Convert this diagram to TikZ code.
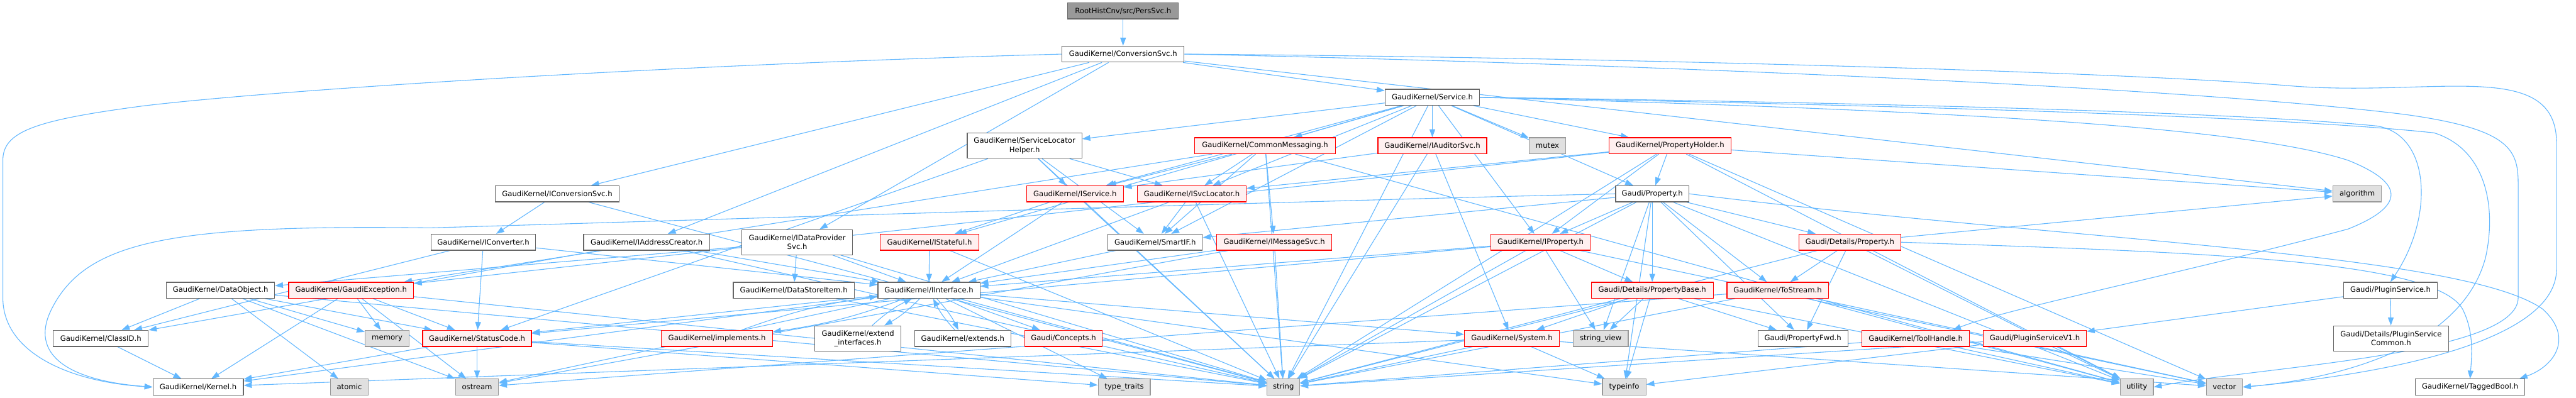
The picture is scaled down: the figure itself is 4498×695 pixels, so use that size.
\documentclass[tikz,border=0pt]{standalone}
\usepackage{fontspec}
\setmainfont{DejaVu Sans}
\usetikzlibrary{arrows.meta}
\pgfdeclarelayer{bg}
\pgfsetlayers{bg,main}
\definecolor{edgec}{RGB}{99,184,255}
\definecolor{redfill}{RGB}{255,240,240}
\definecolor{grayfill}{RGB}{224,224,224}
\definecolor{rootfill}{RGB}{153,153,153}
\definecolor{bord}{RGB}{102,102,102}
\definecolor{grayb}{RGB}{153,153,153}
\begin{document}
\begin{tikzpicture}[x=1pt,y=-1pt,
  every node/.style={font=\fontsize{12.8}{15.5}\selectfont, inner sep=0pt, align=center},
  box/.style={draw=bord, fill=white, line width=1.3pt, minimum height=28pt},
  rbox/.style={draw=red, fill=redfill, line width=1.3pt, minimum height=28pt},
  gbox/.style={draw=grayb, fill=grayfill, line width=1.3pt, minimum height=28pt},
  rootbox/.style={draw=bord, fill=rootfill, line width=1.3pt, minimum height=28pt},
  tall/.style={minimum height=44pt},
  e/.style={draw=edgec, line width=1.2pt, -{Triangle[length=14pt,width=10pt]}},
]
\useasboundingbox (0,0) rectangle (4498,695);
% row 1-3
\node[rootbox, minimum width=193pt] (root) at (1961,19) {RootHistCnv/src/PersSvc.h};
\node[box, minimum width=213pt] (cs) at (1961,94.5) {GaudiKernel/ConversionSvc.h};
\node[box, minimum width=165pt] (svc) at (2501,170) {GaudiKernel/Service.h};
% row 4
\node[box, tall, minimum width=200pt] (slh) at (1789,254.5) {GaudiKernel/ServiceLocator\\Helper.h};
\node[rbox, minimum width=246pt] (cm) at (2209,254.5) {GaudiKernel/CommonMessaging.h};
\node[rbox, minimum width=190pt] (iaudit) at (2501,254.5) {GaudiKernel/IAuditorSvc.h};
\node[gbox, minimum width=64pt] (mutex) at (2702,254.5) {mutex};
\node[rbox, minimum width=213pt] (propholder) at (2916,254.5) {GaudiKernel/PropertyHolder.h};
% row 5
\node[box, minimum width=216pt] (iconvsvc) at (973,338.5) {GaudiKernel/IConversionSvc.h};
\node[rbox, minimum width=169pt] (iservice) at (1877,338.5) {GaudiKernel/IService.h};
\node[rbox, minimum width=190pt] (isvcloc) at (2081,338.5) {GaudiKernel/ISvcLocator.h};
\node[box, minimum width=128pt] (prop) at (2885,338.5) {Gaudi/Property.h};
\node[gbox, minimum width=85pt] (algorithm) at (4116,338.5) {algorithm};
% row 6
\node[box, minimum width=183pt] (iconverter) at (844,423) {GaudiKernel/IConverter.h};
\node[box, minimum width=220pt] (iaddr) at (1129,423) {GaudiKernel/IAddressCreator.h};
\node[box, tall, minimum width=193pt] (idataprov) at (1392,423) {GaudiKernel/IDataProvider\\Svc.h};
\node[rbox, minimum width=172pt] (istateful) at (1623,423) {GaudiKernel/IStateful.h};
\node[box, minimum width=165pt] (smartif) at (2017,423) {GaudiKernel/SmartIF.h};
\node[rbox, minimum width=201pt] (imsgsvc) at (2225,423) {GaudiKernel/IMessageSvc.h};
\node[rbox, minimum width=174pt] (iproperty) at (2690,423) {GaudiKernel/IProperty.h};
\node[rbox, minimum width=178pt] (detprop) at (3230,423) {Gaudi/Details/Property.h};
% row 7
\node[box, minimum width=189pt] (dataobject) at (385,507) {GaudiKernel/DataObject.h};
\node[rbox, minimum width=218pt] (gaudiexc) at (613,507) {GaudiKernel/GaudiException.h};
\node[box, minimum width=211pt] (datastore) at (1386,507) {GaudiKernel/DataStoreItem.h};
\node[box, minimum width=178pt] (iinterface) at (1622,507) {GaudiKernel/IInterface.h};
\node[rbox, minimum width=213pt] (propbase) at (2885,507) {Gaudi/Details/PropertyBase.h};
\node[rbox, minimum width=177pt] (tostream) at (3104,507) {GaudiKernel/ToStream.h};
\node[box, minimum width=164pt] (pluginsvc) at (4174,507) {Gaudi/PluginService.h};
% row 8
\node[box, minimum width=166pt] (classid) at (176,591) {GaudiKernel/ClassID.h};
\node[gbox, minimum width=77pt] (memory) at (676,591) {memory};
\node[rbox, minimum width=190pt] (statuscode) at (833,591) {GaudiKernel/StatusCode.h};
\node[rbox, minimum width=194pt] (implements) at (1252,591) {GaudiKernel/implements.h};
\node[box, tall, minimum width=150pt] (extendif) at (1498,591) {GaudiKernel/extend\\\_interfaces.h};
\node[box, minimum width=168pt] (extends) at (1681,591) {GaudiKernel/extends.h};
\node[rbox, minimum width=135pt] (concepts) at (1857,591) {Gaudi/Concepts.h};
\node[rbox, minimum width=166pt] (system) at (2640,591) {GaudiKernel/System.h};
\node[gbox, minimum width=96pt] (stringview) at (2795,591) {string\_view};
\node[box, minimum width=157pt] (propfwd) at (3148,591) {Gaudi/PropertyFwd.h};
\node[rbox, minimum width=188pt] (toolhandle) at (3345,591) {GaudiKernel/ToolHandle.h};
\node[rbox, minimum width=180pt] (pluginv1) at (3553,591) {Gaudi/PluginServiceV1.h};
\node[box, tall, minimum width=201pt] (plugincommon) at (4175,591) {Gaudi/Details/PluginService\\Common.h};
% row 9
\node[box, minimum width=158pt] (kernel) at (346,676) {GaudiKernel/Kernel.h};
\node[gbox, minimum width=66pt] (atomic) at (610,676) {atomic};
\node[gbox, minimum width=75pt] (ostream) at (833,676) {ostream};
\node[gbox, minimum width=91pt] (typetraits) at (1963,676) {type\_traits};
\node[gbox, minimum width=57pt] (string) at (2241,676) {string};
\node[gbox, minimum width=76pt] (typeinfo) at (2836,676) {typeinfo};
\node[gbox, minimum width=58pt] (utility) at (3731,676) {utility};
\node[gbox, minimum width=63pt] (vector) at (3884,676) {vector};
\node[box, minimum width=191pt] (taggedbool) at (4313,676) {GaudiKernel/TaggedBool.h};

\begin{pgfonlayer}{bg}
\fill[white] (0,0) rectangle (4498,695);
\draw[e] (root) -- (cs);
% ConversionSvc
\foreach \t in {svc,iconvsvc,iaddr,idataprov,algorithm} \draw[e] (cs) -- (\t);
\draw[e] (cs.west) .. controls (1200,112) and (500,155) .. (250,185) .. controls (60,210) and (5,230) .. (5,280) -- (5,520) .. controls (5,620) and (130,668) .. (kernel.west);
\draw[e] (cs.east) .. controls (2800,100) and (3700,125) .. (4000,150) .. controls (4250,170) and (4464,100) .. (4464,250) -- (4464,470) .. controls (4464,600) and (4150,655) .. (vector.east);
\draw[e] (cs.east) .. controls (2800,110) and (3800,150) .. (4200,200) .. controls (4380,225) and (4397,260) .. (4397,320) -- (4397,520) .. controls (4397,620) and (3950,640) .. (utility.east);
% Service
\foreach \t in {slh,cm,iaudit,mutex,propholder,prop,iservice,isvcloc,istateful,iproperty,smartif,string} \draw[e] (svc) -- (\t);
\draw[e] (svc.east) .. controls (3200,178) and (3900,195) .. (4150,220) .. controls (4245,235) and (4250,380) .. (pluginsvc.north);
\draw[e] (svc.east) .. controls (3200,182) and (3950,200) .. (4250,232) .. controls (4340,260) and (4360,360) .. (4340,450) .. controls (4300,600) and (4100,660) .. (vector.east);
\draw[e] (svc.east) .. controls (3300,190) and (3900,215) .. (4100,280) .. controls (4200,320) and (4200,360) .. (4100,400) .. controls (3800,480) and (3500,540) .. ([xshift=65pt]toolhandle.north);
% ServiceLocatorHelper
\foreach \t in {iservice,isvcloc,smartif,string,statuscode} \draw[e] (slh) -- (\t);
% CommonMessaging
\foreach \t in {iservice,isvcloc,imsgsvc,smartif,gaudiexc,string,utility} \draw[e] (cm) -- (\t);
% IAuditorSvc
\foreach \t in {iservice,system,string} \draw[e] (iaudit) -- (\t);
% PropertyHolder
\foreach \t in {isvcloc,iproperty,prop,string,algorithm,utility,vector,gaudiexc} \draw[e] (propholder) -- (\t);
% row 5 sources
\foreach \t in {iconverter,string} \draw[e] (iconvsvc) -- (\t);
\foreach \t in {istateful,iinterface,string} \draw[e] (iservice) -- (\t);
\foreach \t in {iinterface,smartif,string} \draw[e] (isvcloc) -- (\t);
\foreach \t in {iproperty,propbase,stringview,detprop,tostream,propfwd,smartif,string,typeinfo,utility} \draw[e] (prop) -- (\t);
\draw[e] (prop.west) .. controls (2300,350) and (1200,385) .. (750,398) .. controls (300,392) and (150,420) .. (90,540) .. controls (50,620) and (120,665) .. (kernel.west);
\draw[e] (prop.east) .. controls (3600,420) and (4300,440) .. (4440,540) .. controls (4495,590) and (4460,640) .. ([xshift=-10pt]taggedbool.north east);
% row 6 sources
\foreach \t in {iinterface,classid,statuscode} \draw[e] (iconverter) -- (\t);
\foreach \t in {classid,iinterface,string} \draw[e] (iaddr) -- (\t);
\foreach \t in {dataobject,datastore,iinterface,string} \draw[e] (idataprov) -- (\t);
\foreach \t in {iinterface,string} \draw[e] (istateful) -- (\t);
\draw[e] (smartif) -- (iinterface);
\foreach \t in {iinterface,string,ostream} \draw[e] (imsgsvc) -- (\t);
\foreach \t in {iinterface,statuscode,string,stringview,propbase,vector} \draw[e] (iproperty) -- (\t);
\foreach \t in {tostream,propfwd,string,utility,algorithm} \draw[e] (detprop) -- (\t);
\draw[e] (detprop.east) .. controls (3800,440) and (4250,450) .. (4300,540) .. controls (4320,580) and (4316,620) .. (taggedbool.north);
% row 7 sources
\foreach \t in {classid,statuscode,memory,atomic,ostream,string} \draw[e] (dataobject) -- (\t);
\foreach \t in {kernel,memory,statuscode,string,ostream} \draw[e] (gaudiexc) -- (\t);
\draw[e] (datastore) -- (string);
\foreach \t in {concepts,kernel,statuscode,system,ostream,string,typetraits,typeinfo} \draw[e] (iinterface) -- (\t);
\draw[e] (iinterface) to[bend left=8] (extendif);
\draw[e] (extendif) to[bend left=8] (iinterface);
\draw[e] (iinterface) to[bend left=8] (extends);
\draw[e] (extends) to[bend left=8] (iinterface);
\draw[e] (iinterface) to[bend left=6] (implements);
\draw[e] (implements) to[bend left=6] (iinterface);
\foreach \t in {system,stringview,string,typeinfo,propfwd,utility} \draw[e] (propbase) -- (\t);
\foreach \t in {string,ostream,utility,vector} \draw[e] (tostream) -- (\t);
\foreach \t in {pluginv1,plugincommon} \draw[e] (pluginsvc) -- (\t);
% row 8 sources
\draw[e] (classid) -- (kernel);
\foreach \t in {ostream,kernel,typetraits,string} \draw[e] (statuscode) -- (\t);
\foreach \t in {kernel,string,typeinfo,vector} \draw[e] (system) -- (\t);
\foreach \t in {string,utility,vector} \draw[e] (toolhandle) -- (\t);
\foreach \t in {string,typeinfo,utility} \draw[e] (pluginv1) -- (\t);
\end{pgfonlayer}
\end{tikzpicture}
\end{document}
